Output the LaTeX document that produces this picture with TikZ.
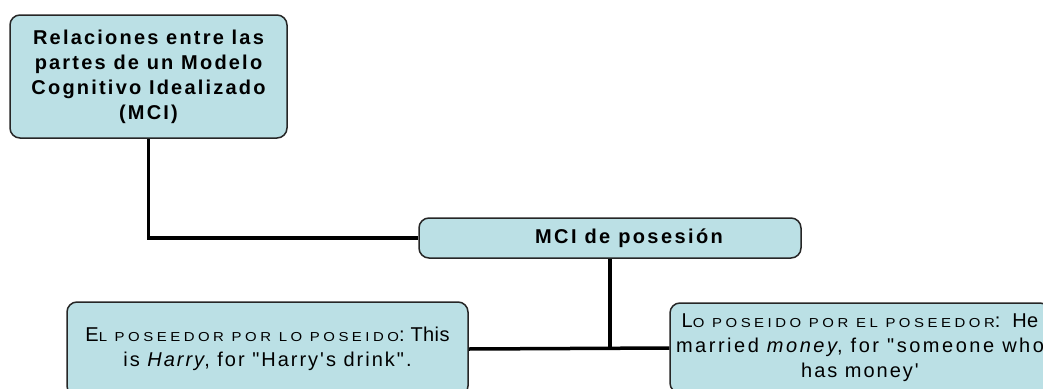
\documentclass[tikz,border=0pt]{standalone}
\usepackage{fontspec}
\setmainfont{Liberation Sans}[Ligatures=TeXOff]
\definecolor{boxfill}{RGB}{187,224,229}
\newcommand\ls[2]{{\addfontfeature{LetterSpace=#1}#2}}
\newcommand\fsc[2]{{\fontsize{13}{25}\selectfont\addfontfeature{FakeStretch=1.15,LetterSpace=#1}#2}}
\begin{document}
\begin{tikzpicture}[x=1pt,y=-1pt,
  box/.style={draw=black!85, line width=1.5pt, fill=boxfill, rounded corners=10pt,
    align=center, inner sep=2pt, font=\fontsize{20}{25}\selectfont},
  boldbox/.style={box, font=\fontsize{20}{25}\selectfont\bfseries},
  link/.style={line width=3.5pt, black}]
\useasboundingbox (0,0) rectangle (1043,388);
\node[boldbox, minimum width=277pt, minimum height=123pt] (top) at (148.5,76.5)
  {\ls{11}{Relaciones entre las}\\ \ls{11}{partes de un Modelo}\\ \ls{11}{Cognitivo Idealizado}\\ \ls{11}{(MCI)}};
\node[boldbox, minimum width=382pt, minimum height=40pt] (mci) at (610,238)
  {\hspace*{38pt}\ls{12}{MCI de posesión}};
\node[box, minimum width=401pt, minimum height=94pt] (left) at (267.5,349)
  {\ls{2}{E\fsc{27}{L POSEEDOR POR LO POSEIDO}: This}\\ \ls{10}{is \textit{Harry}, for "Harry's drink".}};
\node[box, minimum width=380pt, minimum height=90pt] (right) at (860,348)
  {\ls{2}{L\fsc{27}{O POSEIDO POR EL POSEEDOR}:\hspace{6pt} He}\\ \ls{12.6}{married \textit{money}, for "someone who}\\ \ls{10}{has money'}};
\draw[link] (top.south) |- (mci.west);
\draw[link] (left.east) -- (right.west);
\draw[link] (mci.south) -- (mci.south |- left.east);
\end{tikzpicture}
\end{document}
